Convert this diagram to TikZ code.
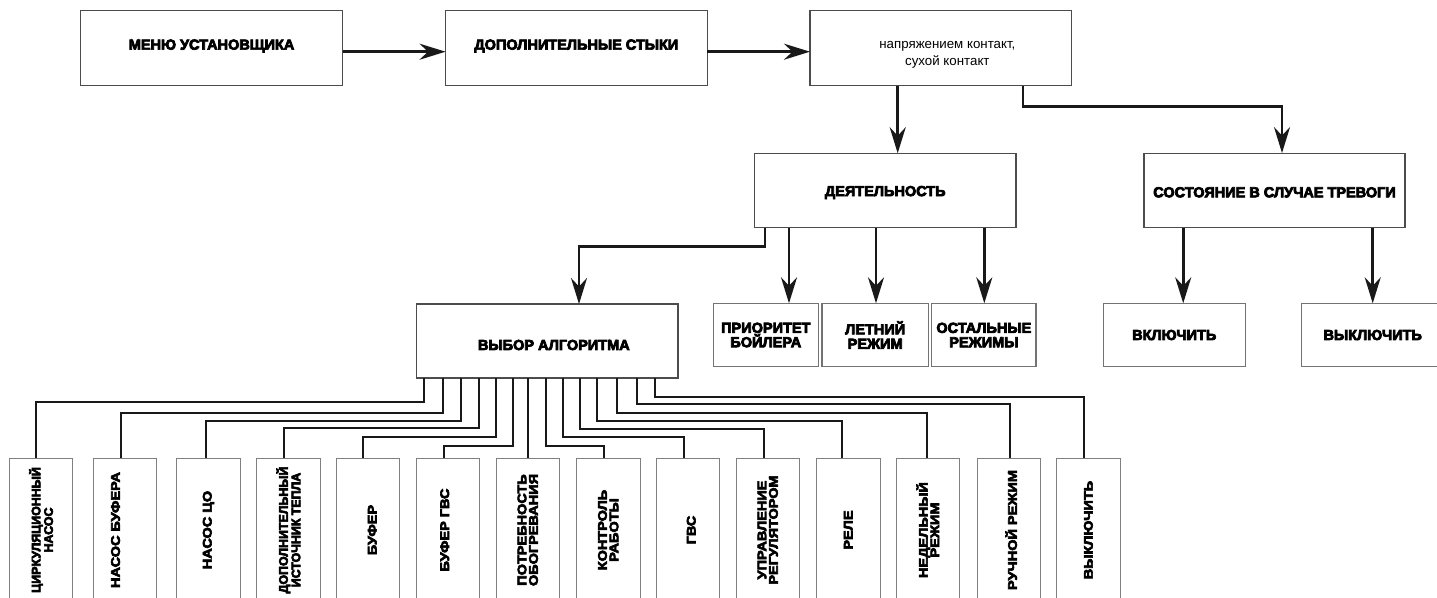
\documentclass[tikz,border=0pt]{standalone}
\usepackage{fontspec}
\setmainfont{Liberation Sans}
\newfontfamily\hv{Liberation Sans}[BoldFeatures={FakeBold=5}]
\newfontfamily\hvx{Liberation Sans}[BoldFeatures={FakeBold=5,FakeStretch=1.16}]
\newcommand{\shiftup}[2]{\raisebox{#1}[\height][\depth]{#2}}
\usetikzlibrary{arrows.meta,calc}
\begin{document}
\begin{tikzpicture}[x=1pt,y=-1pt,
  box/.style={draw=black!70, line width=1.1pt, inner sep=0pt, outer sep=0pt, fill=white,
    font=\fontsize{14.5}{14.4}\selectfont\hv\bfseries, align=center},
  sbox/.style={box, draw=black!55, minimum height=63.4pt},
  vbox/.style={draw=black!50, line width=1pt, inner sep=0pt, outer sep=0pt, rotate=90,
    minimum width=144pt, minimum height=63.5pt,
    font=\fontsize{12.5}{11.5}\selectfont\hvx\bfseries, align=center},
  vboxn/.style={vbox, font=\fontsize{12.4}{12.5}\selectfont\hv\bfseries},
  arr/.style={line width=2.6pt, draw=black!90, -{Stealth[length=26pt,width=16pt,inset=8.5pt]}},
  tree/.style={line width=2pt, draw=black!90}
]
\useasboundingbox (0,0) rectangle (1437,597);
\clip (0,0) rectangle (1437,597);
\fill[white] (0,0) rectangle (1437,597);

% top row
\node[box, minimum width=262pt, minimum height=75.4pt] (A) at (211.6,48) {\shiftup{2pt}{МЕНЮ УСТАНОВЩИКА}};
\node[box, minimum width=261.5pt, minimum height=75.4pt] (B) at (576.3,48) {\shiftup{2pt}{ДОПОЛНИТЕЛЬНЫЕ СТЫКИ}};
\node[box, minimum width=261.7pt, minimum height=75.4pt, font=\fontsize{13.3}{17}\selectfont] (C) at (940.85,48)
  {\hspace*{13pt}\shiftup{-7pt}{\parbox{220pt}{\centering напряжением контакт,\\ сухой контакт}}};

% second row
\node[box, minimum width=261.5pt, minimum height=74.5pt] (D) at (885.25,190.5) {\shiftup{-2pt}{ДЕЯТЕЛЬНОСТЬ}};
\node[box, minimum width=261pt, minimum height=74.5pt] (E) at (1274.5,190.3) {\shiftup{-2pt}{СОСТОЯНИЕ В СЛУЧАЕ ТРЕВОГИ}};

% third row
\node[box, minimum width=261.3pt, minimum height=74pt] (V) at (547.35,341) {\hspace*{13pt}\shiftup{-4pt}{ВЫБОР АЛГОРИТМА}};
\node[sbox, minimum width=105pt] (P1) at (765.8,335) {ПРИОРИТЕТ\\БОЙЛЕРА};
\node[sbox, minimum width=106.3pt] (P2) at (875.15,335) {ЛЕТНИЙ\\РЕЖИМ};
\node[sbox, minimum width=104.3pt] (P3) at (983.85,335) {ОСТАЛЬНЫЕ\\РЕЖИМЫ};
\node[sbox, minimum width=142pt] (K1) at (1174.25,335) {ВКЛЮЧИТЬ};
\node[sbox, minimum width=142pt] (K2) at (1372.7,335) {ВЫКЛЮЧИТЬ};

% bottom row
\node[vboxn] (b1) at (41.05,530) {ЦИРКУЛЯЦИОННЫЙ\\НАСОС};
\node[vbox] (b2) at (125.05,530) {\shiftup{9.5pt}{НАСОС БУФЕРА}};
\node[vbox] (b3) at (208.45,530) {НАСОС ЦО};
\node[vboxn] (b4) at (288.45,530) {ДОПОЛНИТЕЛЬНЫЙ\\ИСТОЧНИК ТЕПЛА};
\node[vbox] (b5) at (367.75,530) {\shiftup{-4.5pt}{БУФЕР}};
\node[vbox] (b6) at (447.75,530) {\shiftup{3pt}{БУФЕР ГВС}};
\node[vbox] (b7) at (527.75,530) {ПОТРЕБНОСТЬ\\ОБОГРЕВАНИЯ};
\node[vbox] (b8) at (608.25,530) {КОНТРОЛЬ\\РАБОТЫ};
\node[vbox] (b9) at (687.75,530) {\shiftup{-3.5pt}{ГВС}};
\node[vbox] (b10) at (767.75,530) {УПРАВЛЕНИЕ\\РЕГУЛЯТОРОМ};
\node[vbox] (b11) at (848.25,530) {РЕЛЕ};
\node[vbox] (b12) at (927.75,530) {НЕДЕЛЬНЫЙ\\РЕЖИМ};
\node[vbox] (b13) at (1008.75,530) {\shiftup{-2.5pt}{РУЧНОЙ РЕЖИМ}};
\node[vbox] (b14) at (1088.35,530) {ВЫКЛЮЧИТЬ};

% top connectors
\draw[arr] ([yshift=-3.7pt]A.east) -- ([yshift=-3.7pt]B.west);
\draw[arr] ([yshift=-3.7pt]B.east) -- ([yshift=-3.7pt]C.west);
\draw[arr] ([xshift=-43.15pt]C.south) -- ([xshift=-43.15pt]C.south |- D.north);
\draw[arr] ([xshift=82pt]C.south) -- ++(0,21) -| ([xshift=7.5pt]E.north);

% from D
\draw[arr] ([xshift=-120.25pt]D.south) -- ++(0,18.7) -| ([xshift=31.65pt]V.north);
\draw[arr] ([xshift=-96.25pt]D.south) -- ([xshift=-96.25pt]D.south |- P1.north);
\draw[arr] ([xshift=-9.25pt]D.south) -- ([xshift=-9.25pt]D.south |- P2.north);
\draw[arr] ([xshift=99.05pt]D.south) -- ([xshift=99.05pt]D.south |- P3.north);

% from E
\draw[arr] ([xshift=-91.3pt]E.south) -- ([xshift=-91.3pt]E.south |- K1.north);
\draw[arr] ([xshift=98.2pt]E.south) -- ([xshift=98.2pt]E.south |- K2.north);

% tree from V
\draw[tree] ([xshift=7.3pt]V.south west) -- ++(0,24) -| ([xshift=-5pt]b1.east);
\draw[tree] ([xshift=25.8pt]V.south west) -- ++(0,35) -| ([xshift=-4.3pt]b2.east);
\draw[tree] ([xshift=44.3pt]V.south west) -- ++(0,43) -| ([xshift=-2.4pt]b3.east);
\draw[tree] ([xshift=62.3pt]V.south west) -- ++(0,50) -| ([xshift=-4pt]b4.east);
\draw[tree] ([xshift=79.3pt]V.south west) -- ++(0,59) -| ([xshift=-4.45pt]b5.east);
\draw[tree] ([xshift=96.3pt]V.south west) -- ++(0,68) -| ([xshift=-3.75pt]b6.east);
\draw[tree] (V.south -| b7.east) -- (b7.east);
\draw[tree] ([xshift=129pt]V.south west) -- ++(0,68) -| ([xshift=-4.25pt]b8.east);
\draw[tree] ([xshift=146.3pt]V.south west) -- ++(0,59) -| ([xshift=-3.75pt]b9.east);
\draw[tree] ([xshift=163.3pt]V.south west) -- ++(0,51) -| ([xshift=-3.75pt]b10.east);
\draw[tree] ([xshift=180.3pt]V.south west) -- ++(0,43) -| ([xshift=-6.55pt]b11.east);
\draw[tree] ([xshift=200.3pt]V.south west) -- ++(0,35) -| ([xshift=-1pt]b12.east);
\draw[tree] ([xshift=220.3pt]V.south west) -- ++(0,26) -| ([xshift=1.25pt]b13.east);
\draw[tree] ([xshift=238.3pt]V.south west) -- ++(0,19) -| ([xshift=-4pt]b14.east);
\end{tikzpicture}
\end{document}
